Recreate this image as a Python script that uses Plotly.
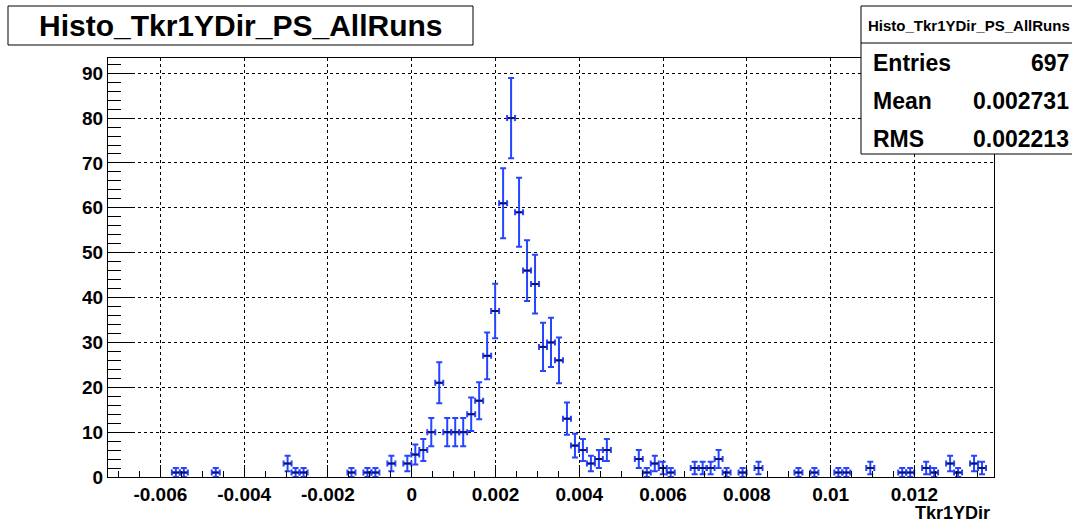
import numpy as np
import plotly.graph_objects as go

# Histogram definition (fixed binning)
X_MIN = -0.00725
X_MAX = 0.0139
N_BINS = 111

# Filled bins: bin index (0-based) and entries per bin
bin_index = [8, 9, 13, 22, 23, 24, 30, 32, 33, 35, 37, 38, 39, 40, 41, 42, 43, 44,
             45, 46, 47, 48, 49, 50, 51, 52, 53, 54, 55, 56, 57, 58, 59, 60, 61, 62,
             66, 67, 68, 69, 70, 73, 74, 75, 76, 77, 79, 81, 86, 88, 91, 92, 95, 99,
             100, 102, 103, 105, 106, 108, 109]
bin_count = [1, 1, 1, 3, 1, 1, 1, 1, 1, 3, 3, 5, 6, 10, 21, 10, 10, 10,
             14, 17, 27, 37, 61, 80, 59, 46, 43, 29, 30, 26, 13, 7, 6, 3, 4, 6,
             4, 1, 3, 2, 1, 2, 2, 2, 4, 1, 1, 2, 1, 1, 1, 1, 2, 1,
             1, 2, 1, 3, 1, 3, 2]

# Axis labelling
x_tick_vals = [-0.006, -0.004, -0.002, 0, 0.002, 0.004, 0.006, 0.008, 0.01, 0.012]
x_tick_text = ["-0.006", "-0.004", "-0.002", "0", "0.002", "0.004", "0.006",
               "0.008", "0.01", "0.012"]
y_tick_vals = [0, 10, 20, 30, 40, 50, 60, 70, 80, 90]

hist_name = "Histo_Tkr1YDir_PS_AllRuns"
x_title = "Tkr1YDir"
stats_rows = [("Entries", "697"), ("Mean", "0.002731"), ("RMS", "0.002213")]

# Derived per-bin quantities
bin_width = (X_MAX - X_MIN) / N_BINS
counts = np.array(bin_count, dtype=float)
centers = X_MIN + (np.array(bin_index) + 0.5) * bin_width
errors = np.sqrt(counts)
y_max = 1.05 * float(np.max(counts + errors))

# Page geometry (pixels)
W, H = 1072, 523
ML, MR, MT, MB = 108, 78, 58, 46
PW, PH = W - ML - MR, H - MT - MB


def px(xp):
    return (xp - ML) / PW


def py(yp):
    return (H - MB - yp) / PH


FONT = "Liberation Sans, Arial, Helvetica, sans-serif"
BLUE = "#2545ff"

fig = go.Figure()
fig.add_trace(go.Scatter(
    x=centers, y=counts, mode="markers",
    marker=dict(symbol="line-ew", size=5, color="#10106a",
                line=dict(width=2, color="#10106a")),
    error_x=dict(type="constant", value=bin_width / 2, color=BLUE,
                 thickness=2, width=3),
    error_y=dict(type="data", array=errors, color=BLUE, thickness=2, width=3),
    showlegend=False, hoverinfo="x+y",
))

axis_common = dict(
    showline=True, linecolor="black", linewidth=1, mirror=True,
    showgrid=True, gridcolor="black", gridwidth=1, griddash="dot",
    zeroline=False, ticks="inside", tickcolor="black", tickwidth=1,
)

fig.update_xaxes(
    range=[X_MIN, X_MAX], tickmode="array", tickvals=x_tick_vals,
    ticktext=x_tick_text, ticklen=12,
    tickfont=dict(family=FONT, size=19, color="black", weight="bold"),
    minor=dict(dtick=0.0005, tick0=0, ticklen=6, ticks="inside",
               tickcolor="black", showgrid=False),
    **axis_common,
)
fig.update_yaxes(
    range=[0, y_max], tickmode="array", tickvals=y_tick_vals, ticklen=25,
    tickfont=dict(family=FONT, size=19, color="black", weight="bold"),
    minor=dict(dtick=2, tick0=0, ticklen=13, ticks="inside",
               tickcolor="black", showgrid=False),
    **axis_common,
)

shapes = [
    # title box
    dict(type="rect", xref="paper", yref="paper", x0=px(8), x1=px(473),
         y0=py(45), y1=py(6), line=dict(color="black", width=1),
         fillcolor="white", layer="above"),
    # statistics box
    dict(type="rect", xref="paper", yref="paper", x0=px(861), x1=px(1090),
         y0=py(154), y1=py(6), line=dict(color="black", width=1),
         fillcolor="white", layer="above"),
    dict(type="line", xref="paper", yref="paper", x0=px(861), x1=px(1090),
         y0=py(43), y1=py(43), line=dict(color="black", width=1), layer="above"),
]

annotations = [
    dict(text=hist_name, xref="paper", yref="paper", x=px(240), y=py(26),
         xanchor="center", yanchor="middle", showarrow=False,
         font=dict(family=FONT, size=30, color="black", weight="bold")),
    dict(text=hist_name, xref="paper", yref="paper", x=px(866), y=py(25),
         xanchor="left", yanchor="middle", showarrow=False,
         font=dict(family=FONT, size=15, color="black", weight="bold")),
    dict(text=x_title, xref="paper", yref="paper", x=px(992), y=py(513),
         xanchor="right", yanchor="middle", showarrow=False,
         font=dict(family=FONT, size=18, color="black", weight="bold")),
]
row_y = [63, 101, 139]
for (label, value), yy in zip(stats_rows, row_y):
    annotations.append(dict(text=label, xref="paper", yref="paper", x=px(871),
                            y=py(yy), xanchor="left", yanchor="middle",
                            showarrow=False,
                            font=dict(family=FONT, size=23, color="black",
                                      weight="bold")))
    annotations.append(dict(text=value, xref="paper", yref="paper", x=px(1071),
                            y=py(yy), xanchor="right", yanchor="middle",
                            showarrow=False,
                            font=dict(family=FONT, size=23, color="black",
                                      weight="bold")))

fig.update_layout(
    width=W, height=H,
    margin=dict(l=ML, r=MR, t=MT, b=MB, pad=0),
    paper_bgcolor="white", plot_bgcolor="white",
    shapes=shapes, annotations=annotations,
    font=dict(family=FONT, color="black"),
)

fig.write_html("out.html")
